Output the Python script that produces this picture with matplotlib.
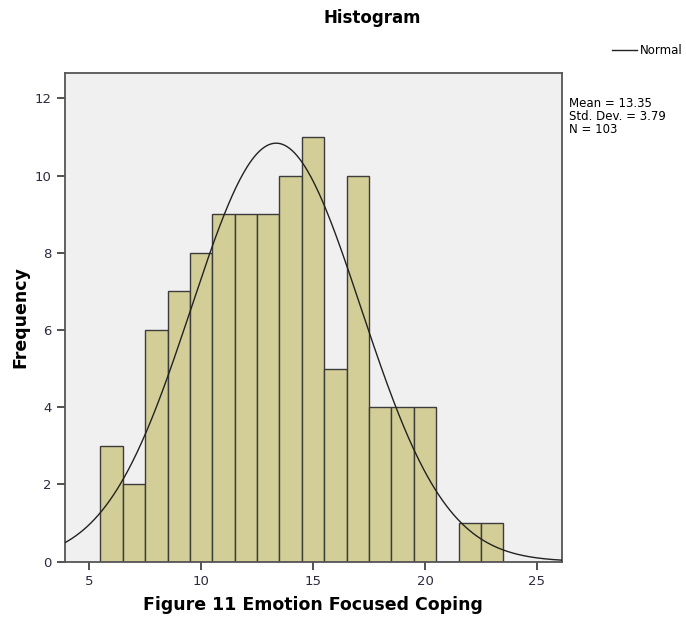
import numpy as np
import matplotlib
matplotlib.use("Agg")
import matplotlib.pyplot as plt

bin_centers = [6, 7, 8, 9, 10, 11, 12, 13, 14, 15, 16, 17, 18, 19, 20, 21, 22, 23]
counts = [3, 2, 6, 7, 8, 9, 9, 9, 10, 11, 5, 10, 4, 4, 4, 0, 1, 1]
mean, sd, n = 13.35, 3.79, 103
xticks = [5, 10, 15, 20, 25]
yticks = [0, 2, 4, 6, 8, 10, 12]

W, H = 686, 619
fig = plt.figure(figsize=(W / 100, H / 100), dpi=100)
ax = fig.add_axes([65 / W, 1 - 561.6 / H, (562 - 65) / W, (561.6 - 73) / H])
ax.set_facecolor("#F0F0F0")

ax.bar(bin_centers, counts, width=1.0, color="#D3CE98", edgecolor="#3c3c3c", linewidth=1.0, zorder=2)

xs = np.linspace(3.9, 26.2, 400)
ys = n * 1.0 / (sd * np.sqrt(2 * np.pi)) * np.exp(-0.5 * ((xs - mean) / sd) ** 2)
ax.plot(xs, ys, color="#222222", linewidth=1.0, zorder=3)

ax.set_xlim(3.92, 26.12)
ax.set_ylim(0, 12.66)
ax.set_xticks(xticks)
ax.set_yticks(yticks)
ax.tick_params(direction="out", length=6, width=1.2, color="#333333", labelsize=9.5, labelcolor="#2a2a40")
for s in ax.spines.values():
    s.set_color("#555555")
    s.set_linewidth(1.3)

fig.text(372 / W, 1 - 18 / H, "Histogram", ha="center", va="center", fontsize=12, fontweight="bold")
fig.text(313 / W, 1 - 605 / H, "Figure 11 Emotion Focused Coping", ha="center", va="center", fontsize=12.5, fontweight="bold")
fig.text(20 / W, 1 - 317 / H, "Frequency", ha="center", va="center", rotation=90, fontsize=12.5, fontweight="bold")

fig.add_artist(plt.Line2D([612 / W, 637 / W], [1 - 50 / H, 1 - 50 / H], color="#222222", linewidth=1.0))
fig.text(640 / W, 1 - 50 / H, "Normal", ha="left", va="center", fontsize=8.5)
fig.text(569 / W, 1 - 97 / H, f"Mean = {mean:.2f}\nStd. Dev. = {sd:.2f}\nN = {n}", ha="left", va="top",
         fontsize=8.5, linespacing=1.0)

fig.savefig("out.png", dpi=100)
